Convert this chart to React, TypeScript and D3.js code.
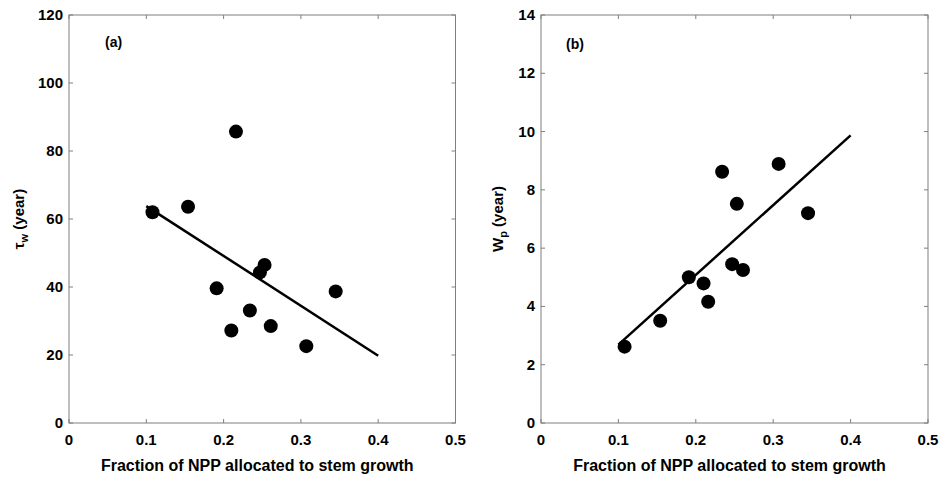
import React from "react";
import * as d3 from "d3";

const fractionNPP = [0.108, 0.154, 0.191, 0.21, 0.216, 0.234, 0.247, 0.253, 0.261, 0.307, 0.345];
const tauW = [62.0, 63.6, 39.6, 27.2, 85.7, 33.1, 44.3, 46.5, 28.5, 22.6, 38.7];
const wP = [2.62, 3.51, 5.0, 4.79, 4.16, 8.62, 5.45, 7.52, 5.25, 8.89, 7.2];
const fitX = [0.1, 0.4];
const fitTau = [63.8, 19.8];
const fitW = [2.69, 9.87];
const xTicks = [0, 0.1, 0.2, 0.3, 0.4, 0.5];
const tauTicks = [0, 20, 40, 60, 80, 100, 120];
const wTicks = [0, 2, 4, 6, 8, 10, 12, 14];

const FONT = "'Liberation Sans', Arial, Helvetica, sans-serif";
const AXIS_COLOR = "#7f7f7f";

type PanelProps = {
  left: number;
  right: number;
  top: number;
  bottom: number;
  ys: number[];
  fitY: number[];
  yDomain: [number, number];
  yTicks: number[];
  tag: string;
  tagX: number;
  tagY: number;
  labelX: number;
  yLabelMain: string;
  yLabelSub: string;
};

function Panel(p: PanelProps) {
  const x = d3.scaleLinear().domain([0, 0.5]).range([p.left, p.right]);
  const y = d3.scaleLinear().domain(p.yDomain).range([p.bottom, p.top]);
  const line = d3
    .line<number>()
    .x((_, i) => x(fitX[i]))
    .y((d) => y(d));
  const tl = 4;
  const cy = (p.top + p.bottom) / 2;
  return (
    <g>
      <rect
        x={p.left}
        y={p.top}
        width={p.right - p.left}
        height={p.bottom - p.top}
        fill="white"
        stroke={AXIS_COLOR}
        strokeWidth={1}
      />
      {xTicks.map((t) => (
        <g key={"x" + t}>
          <line x1={x(t)} x2={x(t)} y1={p.bottom} y2={p.bottom - tl} stroke={AXIS_COLOR} />
          <line x1={x(t)} x2={x(t)} y1={p.top} y2={p.top + tl} stroke={AXIS_COLOR} />
          <text
            x={x(t)}
            y={p.bottom + 22}
            textAnchor="middle"
            fontFamily={FONT}
            fontWeight="bold"
            fontSize={15}
            fill="#000"
          >
            {t === 0 ? "0" : t.toFixed(1)}
          </text>
        </g>
      ))}
      {p.yTicks.map((t) => (
        <g key={"y" + t}>
          <line x1={p.left} x2={p.left + tl} y1={y(t)} y2={y(t)} stroke={AXIS_COLOR} />
          <line x1={p.right} x2={p.right - tl} y1={y(t)} y2={y(t)} stroke={AXIS_COLOR} />
          <text
            x={p.left - 6}
            y={y(t) + 5}
            textAnchor="end"
            fontFamily={FONT}
            fontWeight="bold"
            fontSize={15}
            fill="#000"
          >
            {t}
          </text>
        </g>
      ))}
      <path d={line(p.fitY) || ""} fill="none" stroke="#000" strokeWidth={2.5} />
      {fractionNPP.map((f, i) => (
        <circle key={"c" + i} cx={x(f)} cy={y(p.ys[i])} r={7} fill="#000" />
      ))}
      <text x={p.tagX} y={p.tagY} fontFamily={FONT} fontWeight="bold" fontSize={14} fill="#000">
        {p.tag}
      </text>
      <text
        x={(p.left + p.right) / 2 - 5}
        y={471}
        textAnchor="middle"
        fontFamily={FONT}
        fontWeight="bold"
        fontSize={16}
        fill="#000"
      >
        Fraction of NPP allocated to stem growth
      </text>
      <text
        transform={`translate(${p.labelX},${cy}) rotate(-90)`}
        textAnchor="middle"
        fontFamily={FONT}
        fontWeight="bold"
        fontSize={15}
        fill="#000"
      >
        <tspan>{p.yLabelMain}</tspan>
        <tspan fontSize={11} dy={4}>{p.yLabelSub}</tspan>
        <tspan dy={-4}> (year)</tspan>
      </text>
    </g>
  );
}

export default function App() {
  return (
    <svg width={940} height={479} style={{ display: "block", position: "absolute", left: 0, top: 0 }}>
      <rect width={940} height={479} fill="white" />
      <Panel
        left={69}
        right={455.5}
        top={15}
        bottom={423}
        ys={tauW}
        fitY={fitTau}
        yDomain={[0, 120]}
        yTicks={tauTicks}
        tag="(a)"
        tagX={105}
        tagY={47}
        labelX={24}
        yLabelMain="τ"
        yLabelSub="w"
      />
      <Panel
        left={541}
        right={928}
        top={15}
        bottom={423}
        ys={wP}
        fitY={fitW}
        yDomain={[0, 14]}
        yTicks={wTicks}
        tag="(b)"
        tagX={566}
        tagY={49}
        labelX={503}
        yLabelMain="W"
        yLabelSub="p"
      />
    </svg>
  );
}
